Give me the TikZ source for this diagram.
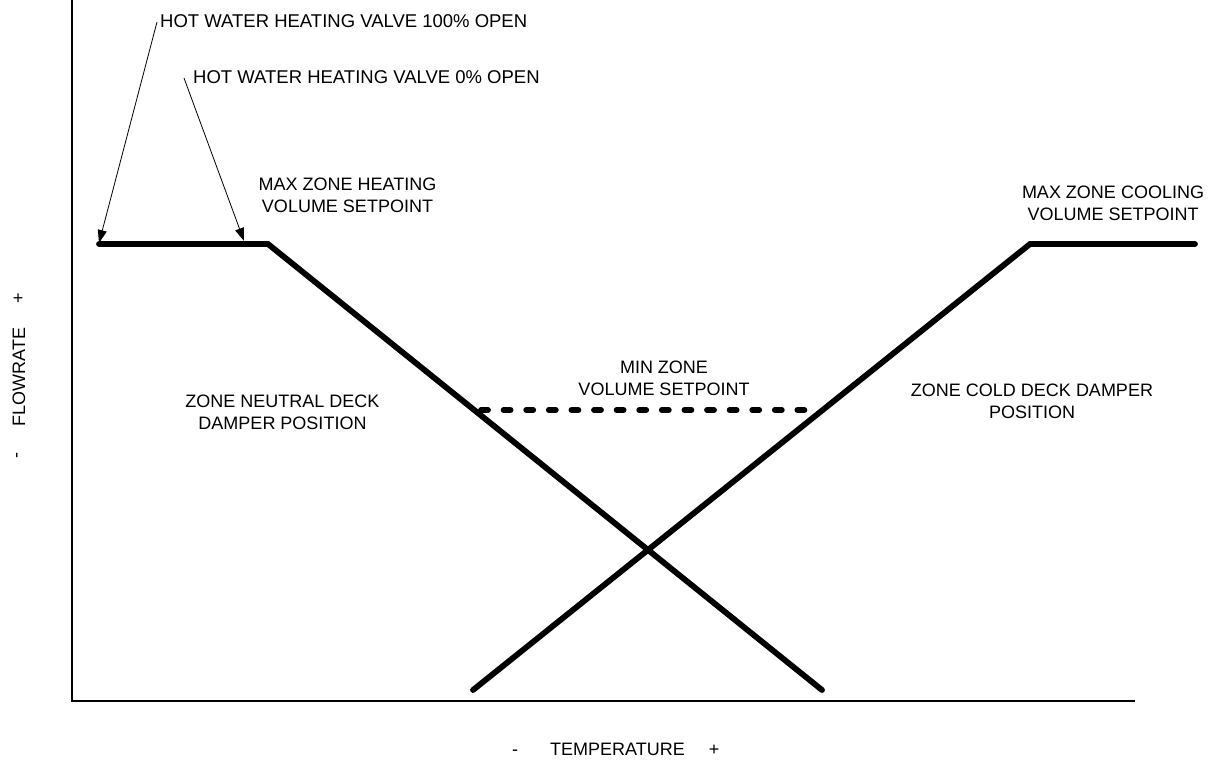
\documentclass[tikz,border=0pt]{standalone}
\usepackage{fontspec}
\setmainfont{Liberation Sans}
\usetikzlibrary{arrows.meta}
\begin{document}
\begin{tikzpicture}[x=1pt,y=-1pt,
  lbl/.style={font=\fontsize{18}{22}\selectfont, align=center, inner sep=0pt},
  vlbl/.style={font=\fontsize{18.5}{22}\selectfont, inner sep=0pt},
  curve/.style={line width=5.8pt, line cap=round, line join=miter},
  axis/.style={line width=1.6pt},
  leader/.style={line width=0.8pt, -{Triangle[length=13pt,width=9pt]}},
  setpt/.style={line width=5.8pt, line cap=round, dash pattern=on 7pt off 15.6pt}]
\useasboundingbox (0,0) rectangle (1220,761);
% axes
\coordinate (ytop) at (72,0);
\coordinate (orig) at (72,701);
\coordinate (xend) at (1135,701);
\draw[axis] (ytop) -- (orig) -- (xend);
% heating (neutral deck) curve
\coordinate (h0) at (99,244);
\coordinate (h1) at (268,244);
\coordinate (h2) at (822,690);
\draw[curve] (h0) -- (h1) -- (h2);
% cooling (cold deck) curve
\coordinate (c0) at (473,690);
\coordinate (c1) at (1030,244);
\coordinate (c2) at (1195,244);
\draw[curve] (c0) -- (c1) -- (c2);
% min volume dashed
\coordinate (m0) at (481,410);
\coordinate (m1) at (818,410);
\draw[setpt] (m0) -- (m1);
% valve labels and leaders
\node[vlbl, anchor=base west] (v100) at (160,27) {HOT WATER HEATING VALVE 100\% OPEN};
\node[vlbl, anchor=base west] (v0) at (193,83) {HOT WATER HEATING VALVE 0\% OPEN};
\coordinate (l100) at (157,22);
\coordinate (l0) at (184,78);
\coordinate (t100) at (99,243);
\coordinate (t0) at (244,241);
\draw[leader] (l100) -- (t100);
\draw[leader] (l0) -- (t0);
% labels
\node[lbl] (maxh) at (347.5,195.5) {MAX ZONE HEATING\\VOLUME SETPOINT};
\node[lbl] (maxc) at (1113,203) {MAX ZONE COOLING\\VOLUME SETPOINT};
\node[lbl] (minv) at (664,378.5) {MIN ZONE\\VOLUME SETPOINT};
\node[lbl] (neut) at (282.5,412.5) {ZONE NEUTRAL DECK\\DAMPER POSITION};
\node[lbl] (cold) at (1032,401.5) {ZONE COLD DECK DAMPER\\POSITION};
% axis titles
\node[lbl, anchor=base] (tm) at (515,755) {-};
\node[lbl, anchor=base west] (tt) at (550,755) {TEMPERATURE};
\node[lbl, anchor=base] (tp) at (714,755) {+};
\node[lbl, rotate=90] (fp) at (19,298) {+};
\node[lbl, rotate=90] (ff) at (19,377) {FLOWRATE};
\node[lbl, rotate=90] (fm) at (19,455) {-};
\end{tikzpicture}
\end{document}
